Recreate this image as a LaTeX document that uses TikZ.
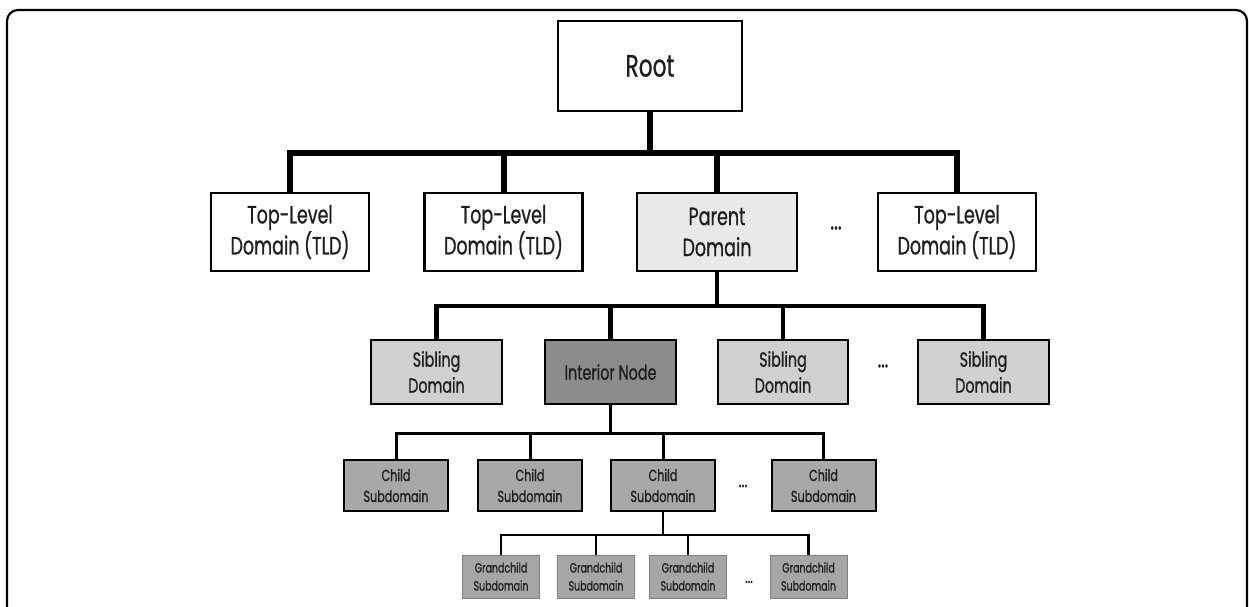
\documentclass[tikz,border=0pt]{standalone}
\usepackage{fontspec}
\setmainfont{Poppins}[FakeStretch=0.7, FakeBold=0.8]
\definecolor{txt}{HTML}{1E1E1E}
\definecolor{parentfill}{HTML}{E9E9E9}
\definecolor{sibfill}{HTML}{D0D0D0}
\definecolor{intfill}{HTML}{8C8C8C}
\definecolor{childfill}{HTML}{A8A8A8}
\definecolor{gcfill}{HTML}{A6A6A6}
\definecolor{gcborder}{HTML}{808080}
\begin{document}
\begin{tikzpicture}[x=1pt,y=-1pt,
  box/.style={draw=black, rectangle, inner sep=0pt, align=center, text=txt},
  rootbox/.style={box, line width=2pt, fill=white, minimum width=184pt, minimum height=90pt, font=\fontsize{31}{32}\selectfont},
  tldbox/.style={box, line width=2.5pt, fill=white, minimum width=158pt, minimum height=78pt, font=\fontsize{25}{31}\selectfont},
  sibbox/.style={box, line width=2.5pt, fill=sibfill, minimum width=131pt, minimum height=64pt, font=\fontsize{20.5}{26}\selectfont},
  childbox/.style={box, line width=2pt, fill=childfill, minimum width=104pt, minimum height=51pt, font=\fontsize{16}{21}\selectfont},
  gcbox/.style={box, draw=gcborder, line width=1pt, fill=gcfill, minimum width=77pt, minimum height=43pt, font=\fontsize{13.5}{18}\selectfont},
  dots/.style={inner sep=0pt, text=txt},
  bus1/.style={line width=6pt},
  bus2/.style={line width=4.5pt},
  bus3/.style={line width=3pt},
  bus4/.style={line width=2.5pt},
]
\useasboundingbox (0,0) rectangle (1249,607);
\fill[white] (0,0) rectangle (1249,607);
% outer frame
\draw[line width=2.2pt, rounded corners=11pt] (7,700) -- (7,10) -- (1247,10) -- (1247,700);

% level 0
\node[rootbox] (root) at (650,66) {Root};
% level 1
\node[tldbox] (tld1) at (290,232) {Top-Level\\Domain (TLD)};
\node[tldbox] (tld2) at (503.5,232) {Top-Level\\Domain (TLD)};
\node[tldbox, fill=parentfill, minimum width=160pt] (parent) at (717,232) {Parent\\Domain};
\node[dots, font=\fontsize{26}{26}\selectfont] (dots1) at (836,228) {...};
\node[tldbox] (tld4) at (957,232) {Top-Level\\Domain (TLD)};
% level 2
\node[sibbox] (sib1) at (436.5,372) {Sibling\\Domain};
\node[sibbox, fill=intfill] (interior) at (610.5,372) {Interior Node};
\node[sibbox, minimum width=130pt] (sib2) at (783,372) {Sibling\\Domain};
\node[dots, font=\fontsize{24}{24}\selectfont] (dots2) at (883,366) {...};
\node[sibbox] (sib4) at (983.5,372) {Sibling\\Domain};
% level 3
\node[childbox] (child1) at (396,485.5) {Child\\Subdomain};
\node[childbox] (child2) at (530,485.5) {Child\\Subdomain};
\node[childbox] (child3) at (663,485.5) {Child\\Subdomain};
\node[dots, font=\fontsize{20}{20}\selectfont] (dots3) at (743,486) {...};
\node[childbox] (child4) at (823.5,485.5) {Child\\Subdomain};
% level 4
\node[gcbox] (gc1) at (501,576.5) {Grandchild\\Subdomain};
\node[gcbox] (gc2) at (596,576.5) {Grandchild\\Subdomain};
\node[gcbox] (gc3) at (688,576.5) {Grandchild\\Subdomain};
\node[dots, font=\fontsize{17}{20}\selectfont] (dots4) at (749,582) {...};
\node[gcbox] (gc4) at (808.5,576.5) {Grandchild\\Subdomain};

% buses
\coordinate (b1) at (650,153);
\coordinate (b2) at (717,306);
\coordinate (b3) at (610.5,433);
\coordinate (b4) at (663,535);

\draw[bus1] (root.south) -- (b1);
\foreach \n in {tld1,tld2,parent,tld4} \draw[bus1] (b1) -| (\n.north);
\draw[bus2] (parent.south) -- (b2);
\foreach \n in {sib1,interior,sib2,sib4} \draw[bus2] (b2) -| (\n.north);
\draw[bus3] (interior.south) -- (b3);
\foreach \n in {child1,child2,child3,child4} \draw[bus3] (b3) -| (\n.north);
\draw[bus4] (child3.south) -- (b4);
\foreach \n in {gc1,gc2,gc3,gc4} \draw[bus4] (b4) -| (\n.north);
\end{tikzpicture}
\end{document}
